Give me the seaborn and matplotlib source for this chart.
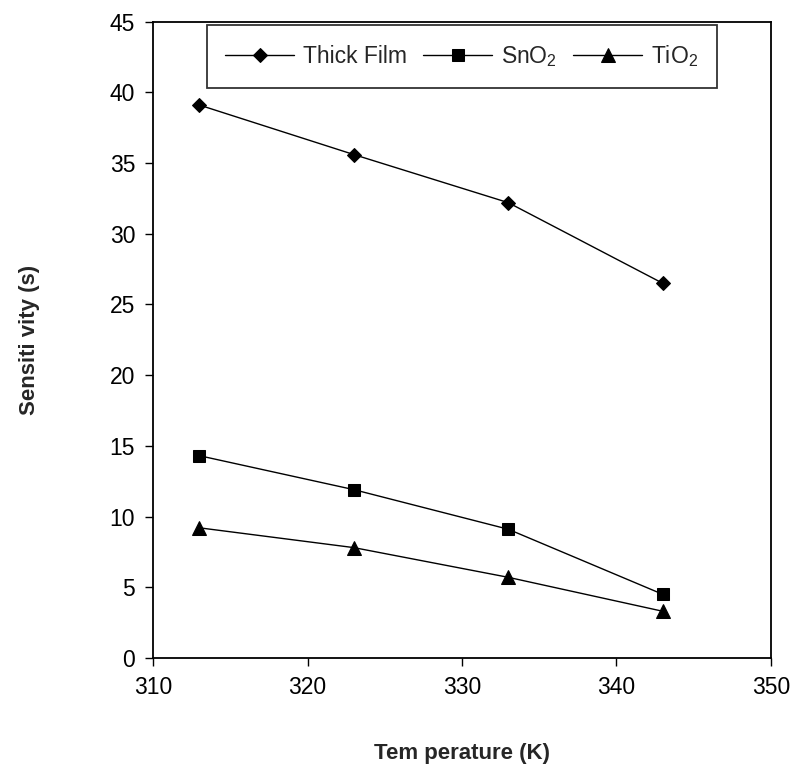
import matplotlib
matplotlib.use("Agg")
import matplotlib.pyplot as plt
import pandas as pd
import seaborn as sns

temperature = [313, 323, 333, 343]
thick_film = [39.1, 35.6, 32.2, 26.5]
sno2 = [14.3, 11.9, 9.1, 4.5]
tio2 = [9.2, 7.8, 5.7, 3.3]
series_names = ["Thick Film", "SnO$_2$", "TiO$_2$"]

df = pd.concat([
    pd.DataFrame({"T": temperature, "S": vals, "series": name})
    for name, vals in zip(series_names, [thick_film, sno2, tio2])
])

sns.set_style("ticks")
plt.rcParams["font.family"] = ["Liberation Sans", "DejaVu Sans"]
plt.rcParams["mathtext.fontset"] = "custom"
plt.rcParams["mathtext.rm"] = "Liberation Sans"

fig = plt.figure(figsize=(8.02, 7.74), dpi=100)
ax = fig.add_axes([0.191, 0.150, 0.770, 0.822])

markers = {"Thick Film": "D", "SnO$_2$": "s", "TiO$_2$": "^"}
sizes = {"Thick Film": 7, "SnO$_2$": 9, "TiO$_2$": 10}
for name in series_names:
    sub = df[df["series"] == name]
    sns.lineplot(data=sub, x="T", y="S", ax=ax, color="black", linewidth=1,
                 marker=markers[name], markersize=sizes[name],
                 markeredgecolor="black", label=name)

ax.set_xlim(310, 350)
ax.set_ylim(0, 45)
ax.set_xticks(range(310, 351, 10))
ax.set_yticks(range(0, 46, 5))
ax.tick_params(axis="both", labelsize=16.5, direction="out", length=6, width=1,
               colors="black", pad=7)
for s in ax.spines.values():
    s.set_visible(True)
    s.set_linewidth(1.3)
    s.set_color("black")
ax.set_xlabel("Tem perature (K)", fontsize=16, fontweight="bold", labelpad=32)
ax.set_ylabel("Sensiti vity (s)", fontsize=16, fontweight="bold", labelpad=50)

leg = ax.legend(loc="upper center", ncol=3, fontsize=16.5, frameon=True,
                fancybox=False, edgecolor="black", handlelength=3.0,
                columnspacing=0.7, handletextpad=0.4, borderpad=0.8,
                borderaxespad=0.15, bbox_to_anchor=(0.5, 1.0))
leg.get_frame().set_linewidth(1.3)

fig.savefig("out.png", dpi=100)
